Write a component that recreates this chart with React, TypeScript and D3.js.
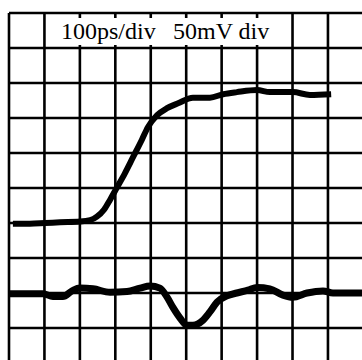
import React, { useEffect, useRef } from 'react';
import * as d3 from 'd3';

// time in ps, amplitude in mV (100ps/div, 50mV/div)
const stepTime = [11, 59, 102, 144, 200, 229, 248, 268, 285, 305, 327, 350, 375, 392, 418, 446, 477, 519, 567, 604, 643, 700, 736, 801, 849, 909];
const stepMv = [-51, -51, -50, -49, -48, -46, -41, -31, -17, 1, 21, 44, 69, 87, 104, 114, 121, 129, 129, 134, 137, 140, 137, 137, 133, 134];

const xtalkTime = [0, 96, 124, 152, 178, 200, 237, 285, 333, 370, 398, 426, 446, 463, 483, 502, 519, 547, 567, 587, 615, 643, 674, 700, 736, 773, 801, 841, 886, 914, 996];
const xtalkMv = [-151, -151, -155, -155, -147, -143, -144, -149, -148, -143, -140, -143, -156, -171, -186, -196, -196, -189, -177, -163, -154, -150, -146, -142, -144, -153, -156, -150, -147, -150, -150];

const timeTicks = d3.range(0, 1001, 100);
const mvTicks = d3.range(-250, 251, 50);

const labelTime = '100ps/div';
const labelVolt = '50mV div';

const W = 362;
const H = 360;

export default function App() {
  const svgRef = useRef<SVGSVGElement>(null);

  useEffect(() => {
    if (!svgRef.current) return;
    const svg = d3.select(svgRef.current);
    svg.selectAll('*').remove();

    const x = d3.scaleLinear().domain([0, 1000]).range([9, 363.4]);
    const y = d3.scaleLinear().domain([-250, 250]).range([363, 13]);

    svg.append('rect').attr('width', W).attr('height', H).attr('fill', '#fff');

    const grid = svg.append('g').attr('stroke', '#000').attr('stroke-width', 2.6);

    grid.selectAll('line.v')
      .data(timeTicks)
      .join('line')
      .attr('class', 'v')
      .attr('x1', d => x(d))
      .attr('x2', d => x(d))
      .attr('y1', y(250))
      .attr('y2', H);

    grid.selectAll('line.h')
      .data(mvTicks)
      .join('line')
      .attr('class', 'h')
      .attr('x1', x(0))
      .attr('x2', W)
      .attr('y1', d => y(d))
      .attr('y2', d => y(d));

    // label box covers the grid
    svg.append('rect')
      .attr('x', 55)
      .attr('y', 18)
      .attr('width', 222)
      .attr('height', 27)
      .attr('fill', '#fff');

    const font = '"Liberation Serif", "Times New Roman", serif';
    svg.append('text')
      .attr('x', 61)
      .attr('y', 38.5)
      .attr('font-family', font)
      .attr('font-size', 24)
      .attr('fill', '#000')
      .text(labelTime);

    svg.append('text')
      .attr('x', 173)
      .attr('y', 38.5)
      .attr('font-family', font)
      .attr('font-size', 24)
      .attr('fill', '#000')
      .text(labelVolt);

    const line = d3.line<[number, number]>()
      .x(d => x(d[0]))
      .y(d => y(d[1]))
      .curve(d3.curveMonotoneX);

    svg.append('path')
      .datum(stepTime.map((t, i) => [t, stepMv[i]] as [number, number]))
      .attr('fill', 'none')
      .attr('stroke', '#000')
      .attr('stroke-width', 6)
      .attr('stroke-linejoin', 'round')
      .attr('d', line);

    svg.append('path')
      .datum(xtalkTime.map((t, i) => [t, xtalkMv[i]] as [number, number]))
      .attr('fill', 'none')
      .attr('stroke', '#000')
      .attr('stroke-width', 7)
      .attr('stroke-linejoin', 'round')
      .attr('d', line);
  }, []);

  return (
    <svg
      ref={svgRef}
      width={W}
      height={H}
      style={{ position: 'absolute', left: 0, top: 0, display: 'block' }}
    />
  );
}
